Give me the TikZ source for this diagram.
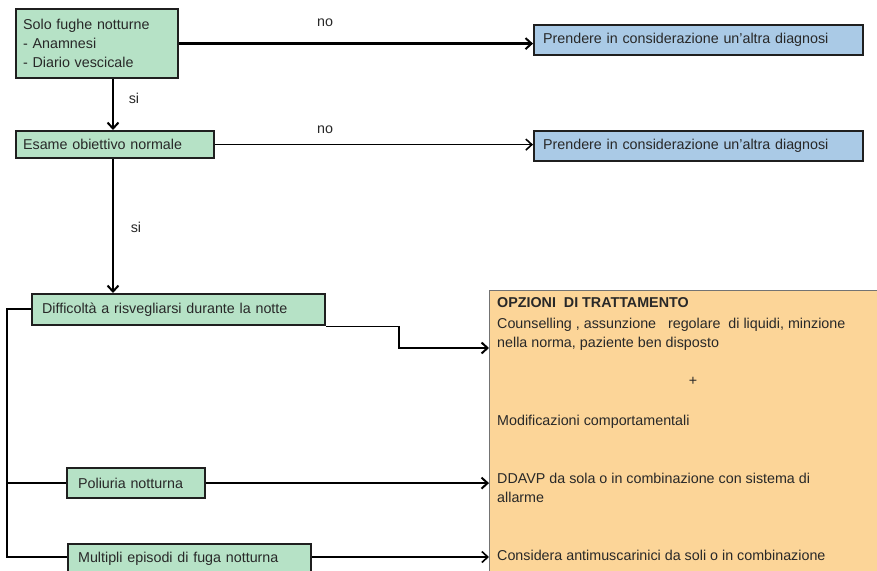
\documentclass[tikz,border=0pt]{standalone}
\usepackage{fontspec}
\setmainfont{Liberation Sans}
\usetikzlibrary{arrows.meta}
\definecolor{gfill}{RGB}{182,226,198}
\definecolor{bfill}{RGB}{170,202,230}
\definecolor{ofill}{RGB}{252,213,152}
\definecolor{txt}{RGB}{40,40,40}
\begin{document}
\begin{tikzpicture}[x=1pt,y=-1pt,
  font=\fontsize{14.3}{19}\selectfont, text=txt,
  gbox/.style={draw=black!88, line width=2.2pt, fill=gfill, anchor=north west, align=left, inner ysep=0pt},
  bbox/.style={draw=black!88, line width=2.2pt, fill=bfill, anchor=north west, align=left, inner ysep=0pt, inner xsep=9pt, text width=311pt, minimum height=30pt},
  obox/.style={draw=black!55, line width=1pt, fill=ofill, anchor=north west, minimum width=400pt, minimum height=290pt},
  lbl/.style={inner sep=0pt},
  otxt/.style={anchor=base west, inner sep=0pt},
  conn/.style={line width=2.3pt, -{Straight Barb[length=6pt,width=11pt,line width=2pt]}},
  connthin/.style={line width=1.4pt, -{Straight Barb[length=6pt,width=11pt,line width=1.6pt]}},
  brk/.style={line width=2.6pt}
]
\useasboundingbox (0,0) rectangle (877,570);
\clip (0,0) rectangle (877,570);
% green boxes
\node[gbox, inner xsep=7pt, text width=148pt, minimum height=69pt] (b1) at (15,8)
  {Solo fughe notturne\\- Anamnesi\\- Diario vescicale};
\node[gbox, inner xsep=7pt, text width=184pt, minimum height=27pt] (b2) at (15,130)
  {Esame obiettivo normale};
\node[gbox, inner xsep=10pt, text width=273pt, minimum height=31pt] (b3) at (31,293)
  {Difficolt\`a a risvegliarsi durante la notte};
\node[gbox, inner xsep=11pt, text width=116pt, minimum height=30pt] (b4) at (66,467)
  {Poliuria notturna};
\node[gbox, inner xsep=10pt, text width=223pt, minimum height=30pt] (b5) at (67,543)
  {Multipli episodi di fuga notturna};
% blue boxes
\node[bbox] (d1) at (533,24) {Prendere in considerazione un'altra diagnosi};
\node[bbox] (d2) at (533,130) {Prendere in considerazione un'altra diagnosi};
% orange box
\node[obox] (op) at (489,290) {};
\node[otxt, font=\fontsize{14.3}{19}\selectfont\bfseries] (t1) at (497,307) {OPZIONI\ \ DI TRATTAMENTO};
\node[otxt] (t2) at (497,328) {Counselling , assunzione\ \ \ regolare\ \ di liquidi, minzione};
\node[otxt] (t3) at (497,347) {nella norma, paziente ben disposto};
\node[lbl] (t4) at (693,381) {+};
\node[otxt] (t5) at (497,425) {Modificazioni comportamentali};
\node[otxt] (t6) at (497,483) {DDAVP da sola o in combinazione con sistema di};
\node[otxt] (t7) at (497,502) {allarme};
\node[otxt] (t8) at (497,560) {Considera antimuscarinici da soli o in combinazione};
% labels
\node[lbl] (n1) at (325,23) {no};
\node[lbl] (n2) at (325,130) {no};
\node[lbl] (s1) at (134,98) {si};
\node[lbl] (s2) at (136,227) {si};
% connectors
\draw[conn] (b1.east) -- (b1.east -| d1.west);
\draw[connthin] (b2.east) -- (b2.east -| d2.west);
\draw[conn] (b1.south -| 113,0) -- (b2.north -| 113,0);
\draw[conn] (b2.south -| 113,0) -- (b3.north -| 113,0);
\coordinate (e1) at (399,323);
\coordinate (e2) at (399,348);
\draw[line width=1.4pt] (b3.south east) -- (b3.south east -| e1);
\draw[conn] (b3.south east -| e1) -- (e2) -- (e2 -| op.west);
\coordinate (L1) at (7,309);
\coordinate (L2) at (7,557);
\draw[brk] (b3.west |- L1) -- (L1) -- (L2) -- (b5.west |- L2);
\draw[brk] (L1 |- b4.west) -- (b4.west);
\draw[conn] (b4.east) -- (b4.east -| op.west);
\draw[connthin] (b5.east |- L2) -- (L2 -| op.west);
\end{tikzpicture}
\end{document}
